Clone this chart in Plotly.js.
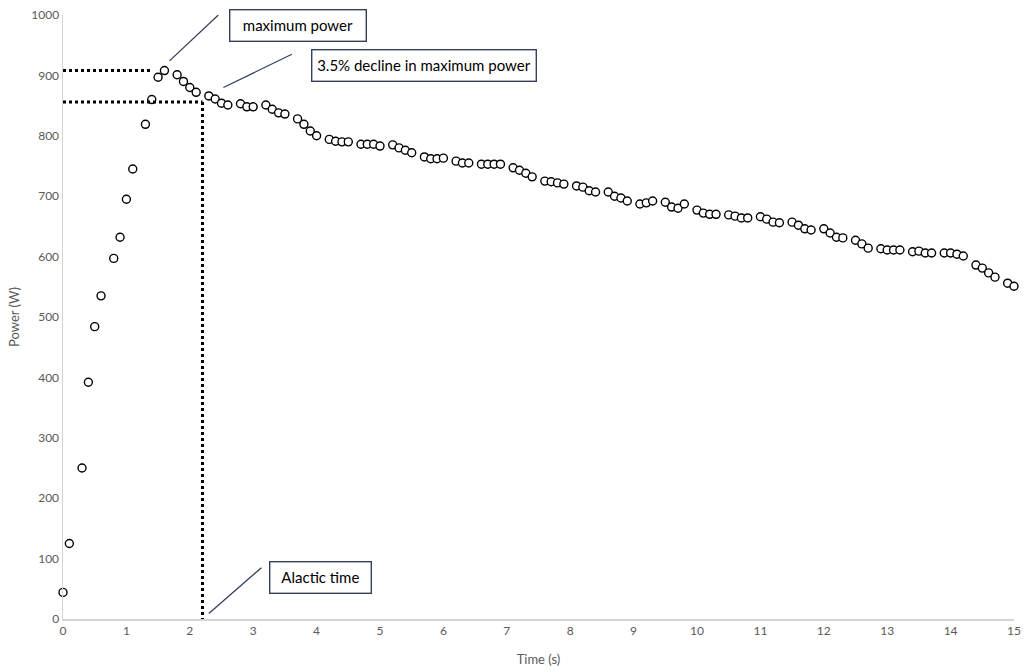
<!DOCTYPE html>
<html>
<head>
<meta charset="utf-8">
<script src="https://cdn.plot.ly/plotly-3.0.1.min.js"></script>
<style>
  html, body { margin: 0; padding: 0; background: #fff; }
  #chart { width: 1026px; height: 671px; }
</style>
</head>
<body>
<div id="chart"></div>
<script>
// time (s) of each sample
var timeS = [0, 0.1, 0.3, 0.4, 0.5, 0.6, 0.8, 0.9, 1.0, 1.1, 1.3, 1.4, 1.5, 1.6, 1.8, 1.9, 2.0, 2.1,
    2.3, 2.4, 2.5, 2.6, 2.8, 2.9, 3.0, 3.2, 3.3, 3.4, 3.5, 3.7, 3.8, 3.9, 4.0, 4.2, 4.3, 4.4, 4.5,
    4.7, 4.8, 4.9, 5.0, 5.2, 5.3, 5.4, 5.5, 5.7, 5.8, 5.9, 6.0, 6.2, 6.3, 6.4, 6.6, 6.7, 6.8, 6.9,
    7.1, 7.2, 7.3, 7.4, 7.6, 7.7, 7.8, 7.9, 8.1, 8.2, 8.3, 8.4, 8.6, 8.7, 8.8, 8.9, 9.1, 9.2, 9.3,
    9.5, 9.6, 9.7, 9.8, 10.0, 10.1, 10.2, 10.3, 10.5, 10.6, 10.7, 10.8, 11.0, 11.1, 11.2, 11.3,
    11.5, 11.6, 11.7, 11.8, 12.0, 12.1, 12.2, 12.3, 12.5, 12.6, 12.7, 12.9, 13.0, 13.1, 13.2,
    13.4, 13.5, 13.6, 13.7, 13.9, 14.0, 14.1, 14.2, 14.4, 14.5, 14.6, 14.7, 14.9, 15.0];

// power (W)
var powerW = [44, 125, 250, 392, 484, 535, 597, 632, 695, 745, 819, 860, 897, 908, 901, 890, 880, 872,
    866, 861, 854, 851, 853, 848, 848, 851, 844, 838, 836, 828, 819, 808, 800, 794, 791, 790, 790,
    786, 786, 786, 783, 785, 780, 776, 772, 765, 762, 762, 763, 758, 755, 755, 753, 753, 753, 753,
    747, 743, 738, 732, 725, 724, 722, 720, 717, 715, 709, 707, 707, 700, 697, 692, 687, 689, 692,
    690, 682, 680, 687, 677, 672, 670, 670, 669, 667, 664, 664, 666, 662, 657, 656,
    657, 652, 646, 644, 646, 639, 632, 631, 627, 621, 614, 613, 611, 611, 611,
    608, 609, 606, 606, 606, 606, 604, 601, 586, 581, 573, 566, 556, 551];

// reference levels
var maxPower = 908;
var declinePower = 856;
var maxPowerTime = 1.42;
var alacticTime = 2.2;

var navy = '#33415e';
var grey = '#595959';
var dotted = {color: '#000', width: 3, dash: 'dot'};
var leader = {color: navy, width: 1.3};

var trace = {
    x: timeS,
    y: powerW,
    type: 'scatter',
    mode: 'markers',
    cliponaxis: false,
    marker: {
        symbol: 'circle',
        size: 8,
        color: '#fff',
        line: {color: '#000', width: 1.4}
    },
    hoverinfo: 'x+y'
};

function box(text, x, y, w) {
    return {
        text: text, x: x, y: y, xref: 'x', yref: 'y',
        showarrow: false, width: w, height: 24,
        bgcolor: '#fff', bordercolor: navy, borderwidth: 1.4, borderpad: 3,
        font: {family: 'Lato, sans-serif', size: 15, color: '#000'}
    };
}

var layout = {
    width: 1026,
    height: 671,
    margin: {l: 62.5, r: 12, t: 15, b: 52},
    paper_bgcolor: '#fff',
    plot_bgcolor: '#fff',
    showlegend: false,
    font: {family: 'Lato, sans-serif', color: grey},
    xaxis: {
        range: [0, 15],
        dtick: 1,
        showgrid: false,
        zeroline: false,
        showline: true,
        linecolor: '#d4d4d4',
        linewidth: 1.5,
        ticks: '',
        tickfont: {size: 12, color: grey},
        title: {text: 'Time (s)', font: {size: 13, color: grey}, standoff: 18}
    },
    yaxis: {
        range: [0, 1000],
        dtick: 100,
        showgrid: false,
        zeroline: false,
        showline: true,
        linecolor: '#d4d4d4',
        linewidth: 1.5,
        ticks: '',
        tickfont: {size: 12, color: grey},
        title: {text: 'Power (W)', font: {size: 13, color: grey}, standoff: 8}
    },
    shapes: [
        {type: 'line', x0: 0, x1: maxPowerTime, y0: maxPower, y1: maxPower, line: dotted},
        {type: 'line', x0: 0, x1: alacticTime, y0: declinePower, y1: declinePower, line: dotted},
        {type: 'line', x0: alacticTime, x1: alacticTime, y0: declinePower, y1: 0, line: dotted},
        {type: 'line', x0: 1.68, y0: 924, x1: 2.45, y1: 1000, line: leader},
        {type: 'line', x0: 2.53, y0: 880, x1: 3.61, y1: 935, line: leader},
        {type: 'line', x0: 2.30, y0: 9, x1: 3.13, y1: 85, line: leader}
    ],
    annotations: [
        box('maximum power', 3.70, 983, 129),
        box('3.5% decline in maximum power', 5.69, 917, 217),
        box('Alactic time', 4.06, 68, 94)
    ]
};

Plotly.newPlot('chart', [trace], layout, {displayModeBar: false, staticPlot: true});
</script>
</body>
</html>
